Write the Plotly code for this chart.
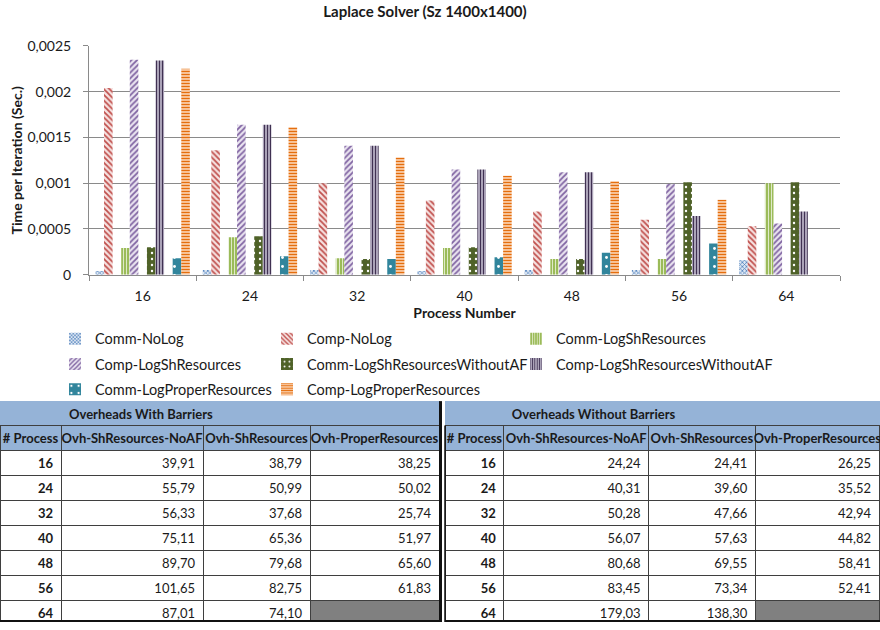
import plotly.graph_objects as go

# ---------------- data ----------------
process_labels = ["16", "24", "32", "40", "48", "56", "64"]

comm_nolog = [0.00004, 0.00005, 0.00005, 0.00004, 0.00005, 0.00005, 0.00016]
comp_nolog = [0.00204, 0.00136, 0.00100, 0.00081, 0.00069, 0.00060, 0.00053]
comm_logsh = [0.00029, 0.00041, 0.00018, 0.00029, 0.00017, 0.00017, 0.00100]
comp_logsh = [0.00235, 0.00164, 0.00141, 0.00115, 0.00112, 0.00099, 0.00056]
comm_logsh_noaf = [0.00030, 0.00042, 0.00017, 0.00030, 0.00017, 0.00101, 0.00101]
comp_logsh_noaf = [0.00234, 0.00164, 0.00141, 0.00115, 0.00112, 0.00064, 0.00069]
comm_logproper = [0.00018, 0.00020, 0.00017, 0.00019, 0.00024, 0.00034, None]
comp_logproper = [0.00225, 0.00161, 0.00128, 0.00108, 0.00102, 0.00082, None]

series_names = [
    "Comm-NoLog", "Comp-NoLog", "Comm-LogShResources", "Comp-LogShResources",
    "Comm-LogShResourcesWithoutAF", "Comp-LogShResourcesWithoutAF",
    "Comm-LogProperResources", "Comp-LogProperResources",
]
series_values = [comm_nolog, comp_nolog, comm_logsh, comp_logsh,
                 comm_logsh_noaf, comp_logsh_noaf, comm_logproper, comp_logproper]

# overhead tables (percent)
table_process = [16, 24, 32, 40, 48, 56, 64]
with_barriers_noaf = [39.91, 55.79, 56.33, 75.11, 89.70, 101.65, 87.01]
with_barriers_sh = [38.79, 50.99, 37.68, 65.36, 79.68, 82.75, 74.10]
with_barriers_proper = [38.25, 50.02, 25.74, 51.97, 65.60, 61.83, None]
without_barriers_noaf = [24.24, 40.31, 50.28, 56.07, 80.68, 83.45, 179.03]
without_barriers_sh = [24.41, 39.60, 47.66, 57.63, 69.55, 73.34, 138.30]
without_barriers_proper = [26.25, 35.52, 42.94, 44.82, 58.41, 52.41, None]

table_headers = ["#\u00a0Process", "Ovh-ShResources-NoAF", "Ovh-ShResources", "Ovh-ProperResources"]

# ---------------- styling ----------------
W, H = 880, 630
FONT = "Lato"
TXT = "#1a1a1a"
GRID = "#8a8a8a"


def fx(px):
    return px / W


def fy(py):
    return 1 - py / H


styles = [
    dict(shape="x", fgcolor="#4f81bd", bgcolor="#dce6f2", size=3, solidity=0.45),
    dict(shape="\\", fgcolor="#c0504d", bgcolor="#f6e2e1", size=4, solidity=0.45),
    dict(shape="|", fgcolor="#e6eed5", bgcolor="#9bbb59", size=3, solidity=0.3),
    dict(shape="/", fgcolor="#8064a2", bgcolor="#ebe5f1", size=4, solidity=0.45),
    dict(shape=".", fgcolor="#ffffff", bgcolor="#4f6228", size=6, solidity=0.12),
    dict(shape="|", fgcolor="#403152", bgcolor="#cfc8da", size=3, solidity=0.5),
    dict(shape=".", fgcolor="#ffffff", bgcolor="#31859c", size=9, solidity=0.08),
    dict(shape="-", fgcolor="#e46c0a", bgcolor="#fbd4b4", size=3, solidity=0.45),
]

# bars sit in pairs: 11 slots per category, the 3rd/6th/9th slot left empty
slot_w = 0.08
slot_start = -0.44
slots = [0, 1, 3, 4, 6, 7, 9, 10]

# legend grid: (text-left px, row-center px)
legend_pos = [(95, 339), (307, 339), (556, 339),
              (95, 365), (307, 365), (556, 365),
              (95, 391), (307, 391)]

fig = go.Figure()

for i, (name, vals) in enumerate(zip(series_names, series_values)):
    st = styles[i]
    fig.add_trace(go.Bar(
        x=process_labels, y=vals, name=name,
        offset=slot_start + slots[i] * slot_w, width=slot_w,
        marker=dict(color=st["bgcolor"], line=dict(width=0),
                    pattern=dict(shape=st["shape"], fgcolor=st["fgcolor"],
                                 bgcolor=st["bgcolor"], size=st["size"],
                                 solidity=st["solidity"], fillmode="replace")),
        legend="legend" if i == 0 else f"legend{i + 1}",
        showlegend=True,
    ))

legend_layout = {}
for i, (tx, ty) in enumerate(legend_pos):
    key = "legend" if i == 0 else f"legend{i + 1}"
    legend_layout[key] = dict(
        x=fx(tx - 40), y=fy(ty), xanchor="left", yanchor="middle",
        orientation="h", bgcolor="rgba(0,0,0,0)", borderwidth=0,
        font=dict(family=FONT, size=14.5, color=TXT),
    )


def fmt(v):
    if v is None:
        return ""
    return f"{v:.2f}".replace(".", ",")


BLUE = "#95b3d7"
LINE_C = "#3f3f3f"
TOP, BAND, ROW = 403, 25, 25
N_ROWS = len(table_process)
BOTTOM = TOP + BAND + ROW * (N_ROWS + 1)


def add_table(x0, x1, title, noaf, sh, proper, colw):
    # title band across the table, text starting over the second column
    fig.add_trace(go.Table(
        domain=dict(x=[fx(x0), fx(x1)], y=[fy(TOP + BAND + 1), fy(TOP)]),
        columnwidth=[colw[0], sum(colw[1:])],
        header=dict(values=["", title.replace(" ", "\u00a0")],
                    fill_color=BLUE, line=dict(color=BLUE, width=1),
                    align="left", height=BAND,
                    font=dict(family=FONT, size=13, color=TXT, weight="bold")),
        cells=dict(values=[[""], [""]], height=1,
                   fill_color=BLUE, line=dict(color=BLUE, width=0)),
    ))
    grey = "#808080"
    fills = [["#ffffff"] * len(proper), ["#ffffff"] * len(proper), ["#ffffff"] * len(proper),
             ["#ffffff" if v is not None else grey for v in proper]]
    fig.add_trace(go.Table(
        domain=dict(x=[fx(x0), fx(x1)], y=[fy(BOTTOM + 1), fy(TOP + BAND)]),
        columnwidth=colw,
        header=dict(values=table_headers,
                    fill_color=BLUE, line=dict(color=LINE_C, width=1),
                    align="center", height=ROW,
                    font=dict(family=FONT, size=13, color=TXT, weight="bold")),
        cells=dict(values=[[str(p) for p in table_process],
                           [fmt(v) for v in noaf], [fmt(v) for v in sh],
                           [fmt(v) for v in proper]],
                   fill_color=fills, line=dict(color=LINE_C, width=1),
                   align="right", height=ROW,
                   font=dict(family=FONT, size=13, color=TXT,
                             weight=["bold", "normal", "normal", "normal"])),
    ))


LEFT_X = (0, 439)
RIGHT_X = (445, 880)
add_table(*LEFT_X, "Overheads With Barriers", with_barriers_noaf,
          with_barriers_sh, with_barriers_proper, [61, 142, 107, 129])
add_table(*RIGHT_X, "Overheads Without Barriers", without_barriers_noaf,
          without_barriers_sh, without_barriers_proper, [59, 145, 107, 124])

# heavy frame lines around the two tables
frame = [
    dict(x0=fx(LEFT_X[1] + 1.5), x1=fx(LEFT_X[1] + 1.5), y0=fy(TOP), y1=fy(H), w=3),
    dict(x0=fx(RIGHT_X[0]), x1=fx(RIGHT_X[0]), y0=fy(TOP + BAND), y1=fy(H), w=1.5),
    dict(x0=fx(LEFT_X[0]), x1=fx(LEFT_X[1] + 3), y0=fy(BOTTOM + 1), y1=fy(BOTTOM + 1), w=2),
    dict(x0=fx(RIGHT_X[0]), x1=fx(RIGHT_X[1]), y0=fy(BOTTOM + 1), y1=fy(BOTTOM + 1), w=2),
]
shapes = [dict(type="line", xref="paper", yref="paper", x0=f["x0"], x1=f["x1"],
               y0=f["y0"], y1=f["y1"], line=dict(color="#111111", width=f["w"]))
          for f in frame]

fig.update_layout(
    width=W, height=H,
    margin=dict(l=0, r=0, t=0, b=0),
    paper_bgcolor="white", plot_bgcolor="white",
    separators=",.",
    barmode="overlay",
    font=dict(family=FONT, color=TXT),
    shapes=shapes,
    title=dict(text="<b>Laplace Solver (Sz 1400x1400)</b>", x=fx(425), xanchor="center",
               y=fy(12), yanchor="middle", yref="container", xref="container",
               font=dict(family=FONT, size=15, color=TXT)),
    xaxis=dict(domain=[fx(89), fx(840)], type="category",
               showline=True, linecolor=GRID, linewidth=1,
               ticks="outside", tickson="boundaries", ticklen=5, tickcolor=GRID,
               ticklabelstandoff=9,
               tickfont=dict(family=FONT, size=14, color=TXT),
               title=dict(text="<b>Process Number</b>", standoff=2,
                          font=dict(family=FONT, size=14, color=TXT)),
               showgrid=False),
    yaxis=dict(domain=[fy(273), fy(38)], range=[0, 0.0025], dtick=0.0005,
               showline=True, linecolor=GRID, linewidth=1,
               ticks="outside", ticklen=5, tickcolor=GRID,
               ticklabelstandoff=9,
               showgrid=True, gridcolor=GRID, gridwidth=1, zeroline=False,
               tickfont=dict(family=FONT, size=14, color=TXT),
               title=dict(text="<b>Time per Iteration (Sec.)</b>", standoff=1,
                          font=dict(family=FONT, size=14, color=TXT))),
    **legend_layout,
)

fig.write_html("out.html")
